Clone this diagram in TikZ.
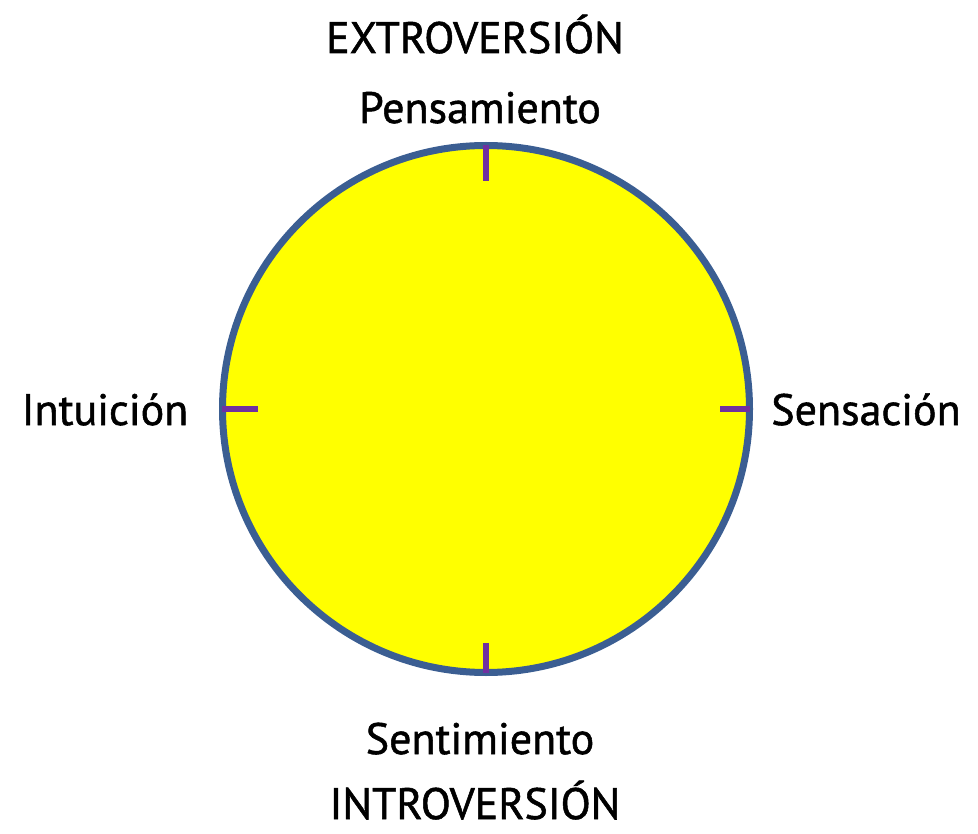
\documentclass[tikz,border=0pt]{standalone}
\usepackage{fontspec}
\setmainfont{PT Sans}
\newfontfamily\lblfont{PT Sans}[BoldFont={PT Sans}, BoldFeatures={FakeBold=1.2}]
\definecolor{ringblue}{HTML}{3B5E92}
\definecolor{tickpurple}{HTML}{7030A0}
\definecolor{discyellow}{HTML}{FFFF00}
\begin{document}
\begin{tikzpicture}[x=1pt,y=-1pt,
  lbl/.style={font=\lblfont\bfseries\fontsize{44}{44}\selectfont, anchor=base, inner sep=0pt, text depth=0pt},
  tickmark/.style={draw=tickpurple, line width=6pt}]
\useasboundingbox (0,0) rectangle (978,834);
\node[circle, draw=ringblue, line width=7pt, fill=discyellow, minimum size=527pt, inner sep=0pt] (c) at (486,409) {};
\coordinate (t1) at (486,145); \coordinate (t2) at (486,181);
\coordinate (b1) at (486,673); \coordinate (b2) at (486,643);
\coordinate (l1) at (222,409); \coordinate (l2) at (258,409);
\coordinate (r1) at (750,409); \coordinate (r2) at (720,409);
\draw[tickmark] (t1) -- (t2);
\draw[tickmark] (b1) -- (b2);
\draw[tickmark] (l1) -- (l2);
\draw[tickmark] (r1) -- (r2);
\node[lbl] (ext) at (475,53) {EXTROVERSIÓN};
\node[lbl] (pen) at (480,123) {Pensamiento};
\node[lbl] (int) at (105,425) {Intuición};
\node[lbl] (sen) at (866,425) {Sensación};
\node[lbl] (sent) at (480,754) {Sentimiento};
\node[lbl] (intro) at (475,819) {INTROVERSIÓN};
\end{tikzpicture}
\end{document}
